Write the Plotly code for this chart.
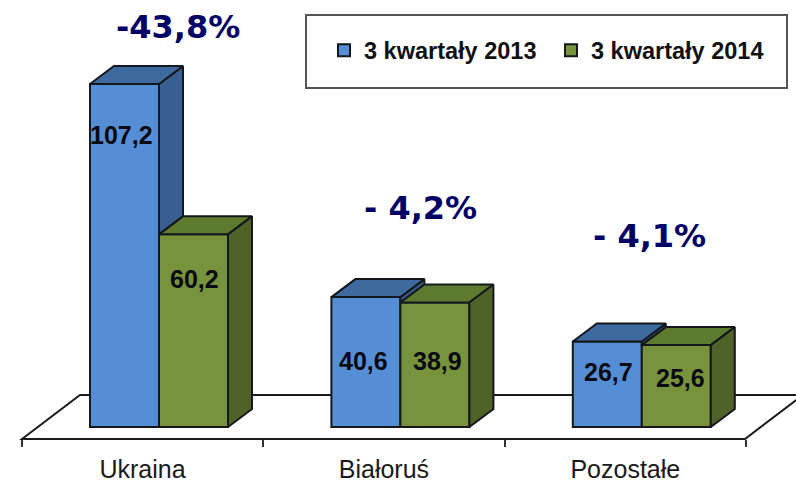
import plotly.graph_objects as go

categories = ["Ukraina", "Białoruś", "Pozostałe"]
series_names = ["3 kwartały 2013", "3 kwartały 2014"]
values_2013 = [107.2, 40.6, 26.7]
values_2014 = [60.2, 38.9, 25.6]
changes = ["-43,8%", "- 4,2%", "- 4,1%"]

W, H = 796, 482
PX_X = 241.4          # pixels per category
X0_PX = 142.5         # pixel of category 0
PX_Y = 3.2            # pixels per value unit
Y0_PX = 427.0         # pixel of value 0


def px_x(p):
    return (p - X0_PX) / PX_X


def px_y(p):
    return (Y0_PX - p) / PX_Y


BAR_W = 69 / PX_X
OFF_A = -52.5 / PX_X
OFF_B = OFF_A + BAR_W
DX = 24 / PX_X
DY = 18 / PX_Y
EDGE = "#14181c"
BLUE, BLUE_TOP, BLUE_SIDE = "#558ed5", "#3f6a9f", "#385f8f"
GREEN, GREEN_TOP, GREEN_SIDE = "#77933c", "#5e7a2e", "#4f6228"

fig = go.Figure()

# fronts
for name, vals, off, col in [
    (series_names[0], values_2013, OFF_A, BLUE),
    (series_names[1], values_2014, OFF_B, GREEN),
]:
    fig.add_bar(
        x=list(range(len(categories))), y=vals, name=name, width=BAR_W, offset=off,
        marker=dict(color=col, line=dict(color=EDGE, width=2)),
        hoverinfo="name+y",
    )


def face(xs, ys, col):
    fig.add_scatter(
        x=xs + xs[:1], y=ys + ys[:1], mode="lines", fill="toself", fillcolor=col,
        line=dict(color=EDGE, width=2), showlegend=False, hoverinfo="skip",
        cliponaxis=False,
    )


# depth faces, back to front
for i in range(len(categories)):
    a, b = values_2013[i], values_2014[i]
    l = i + OFF_A
    m = l + BAR_W
    r = m + BAR_W
    # blue side: only the part rising above the neighbouring bar
    face([m, m + DX, m + DX, m], [a, a + DY, b + DY, b], BLUE_SIDE)
    face([l, l + DX, m + DX, m], [a, a + DY, a + DY, a], BLUE_TOP)
    face([m, m + DX, r + DX, r], [b, b + DY, b + DY, b], GREEN_TOP)
    face([r, r + DX, r + DX, r], [b, b + DY, DY, 0], GREEN_SIDE)

annotations = []
# value labels
label_px_x = [[121, 194], [363, 437], [608, 680]]
label_px_y = [[135, 279], [361, 361], [372, 378]]
for i in range(len(categories)):
    for j, vals in enumerate([values_2013, values_2014]):
        annotations.append(dict(
            x=px_x(label_px_x[i][j]), y=px_y(label_px_y[i][j]), xref="x", yref="y",
            text=f"{vals[i]:.1f}".replace(".", ","), showarrow=False,
            font=dict(family="Liberation Sans", size=25, color="#0a0a14", weight="bold"),
        ))
# percentage changes
change_px = [(178, 27), (420, 208), (649, 236)]
for txt, (px, py) in zip(changes, change_px):
    annotations.append(dict(
        x=px_x(px), y=px_y(py), xref="x", yref="y", text=txt, showarrow=False,
        font=dict(family="DejaVu Sans", size=32, color="#000066", weight="bold"),
    ))

floor_y = px_y(439)
back_y = px_y(395)
fl = px_x(22)
fr = px_x(745)
fdx = 58 / PX_X
shapes = [
    dict(type="path", xref="x", yref="y", layer="below",
         path=f"M{fl},{floor_y} L{fl + fdx},{back_y} L{fr + fdx},{back_y} L{fr},{floor_y} Z",
         line=dict(color="#1a1a1a", width=2), fillcolor="white"),
    dict(type="rect", xref="paper", yref="paper", layer="below",
         x0=306 / W, x1=787 / W, y0=1 - 88 / H, y1=1 - 15 / H,
         line=dict(color="#555555", width=2), fillcolor="white"),
]

fig.update_layout(
    width=W, height=H, margin=dict(l=0, r=0, t=0, b=0, autoexpand=False),
    paper_bgcolor="white", plot_bgcolor="white",
    showlegend=True,
    legend=dict(
        orientation="h", x=324 / W, y=1 - 50.5 / H, xanchor="left", yanchor="middle",
        bgcolor="rgba(0,0,0,0)", borderwidth=0, traceorder="normal",
        entrywidth=182, entrywidthmode="pixels",
        font=dict(family="Liberation Sans", size=23.5, color="#111111", weight="bold"),
    ),
    xaxis=dict(
        range=[px_x(0), px_x(W)], domain=[0, 1], anchor="free", position=1 - 439 / H,
        tickmode="array", tickvals=list(range(len(categories))), ticktext=categories,
        ticks="", showline=False, showgrid=False, zeroline=False,
        ticklabelstandoff=13, automargin=False,
        tickfont=dict(family="Liberation Sans", size=25, color="#1a1a1a"),
        minor=dict(tickmode="array", tickvals=[-0.5, 0.5, 1.5, 2.5], ticks="outside",
                   ticklen=7, tickwidth=2, tickcolor="#333333", showgrid=False),
    ),
    yaxis=dict(range=[px_y(H), px_y(0)], domain=[0, 1], visible=False),
    shapes=shapes, annotations=annotations,
)

fig.write_html(
    "out.html",
    config={"displayModeBar": False},
    post_script="document.body.style.margin='0';document.documentElement.style.overflow='hidden';",
)
